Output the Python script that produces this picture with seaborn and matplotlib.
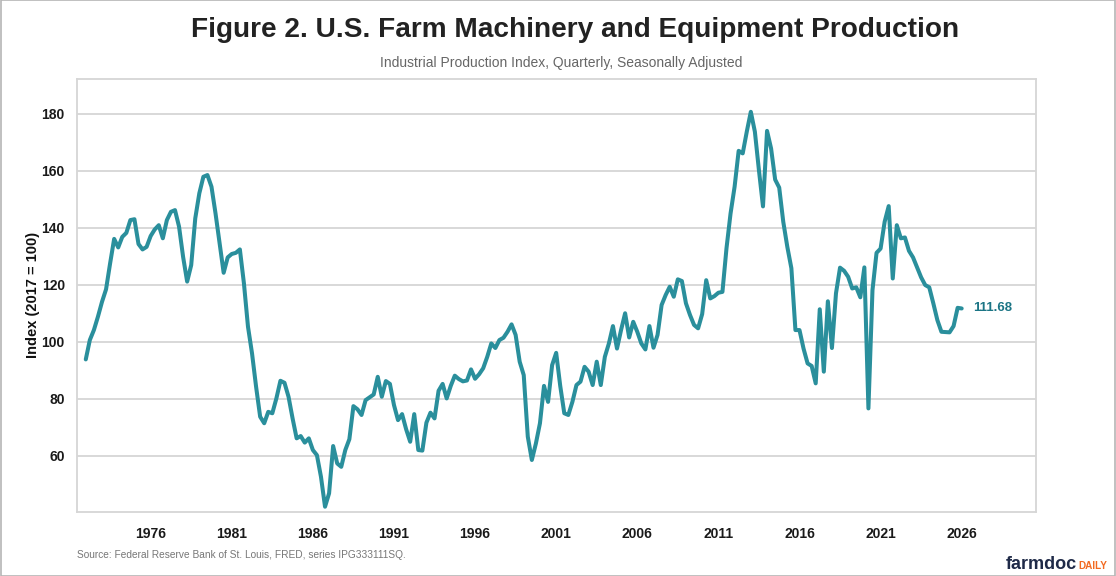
import numpy as np
import pandas as pd
import seaborn as sns
import matplotlib.pyplot as plt
from matplotlib.patches import Rectangle

# =========================
# Data (quarterly index, 2017 = 100), 1972Q1 .. 2026Q1
# =========================
start_quarter = "1972Q1"
index_values = [
    93.8, 100.6, 104.1, 108.8,      # 1972
    114.0, 118.4, 127.5, 136.1,     # 1973
    133.1, 136.8, 138.2, 142.7,     # 1974
    143.0, 134.3, 132.4, 133.3,     # 1975
    137.1, 139.4, 140.9, 136.3,     # 1976
    142.7, 145.6, 146.2, 140.4,     # 1977
    129.8, 121.1, 126.9, 143.3,     # 1978
    152.1, 157.9, 158.5, 154.4,     # 1979
    145.0, 134.5, 124.2, 129.6,     # 1980
    130.8, 131.2, 132.4, 120.5,     # 1981
    105.3, 95.9, 84.2, 73.7,        # 1982
    71.4, 75.4, 74.9, 80.1,         # 1983
    86.3, 85.6, 80.7, 73.1,         # 1984
    66.1, 66.9, 64.6, 66.1,         # 1985
    62.0, 60.2, 52.6, 42.1,         # 1986
    46.8, 63.4, 57.3, 56.1,         # 1987
    62.0, 65.8, 77.4, 76.3,         # 1988
    74.3, 79.5, 80.5, 81.5,         # 1989
    87.7, 80.7, 86.2, 85.2,         # 1990
    77.8, 72.5, 74.6, 69.3,         # 1991
    64.9, 74.6, 62.0, 61.8,         # 1992
    71.6, 75.1, 73.1, 82.8,         # 1993
    85.2, 80.1, 84.5, 88.1,         # 1994
    86.9, 86.1, 86.4, 90.3,         # 1995
    87.0, 88.6, 90.7, 94.7,         # 1996
    99.4, 97.8, 100.6, 101.4,       # 1997
    103.5, 106.1, 102.4, 93.0,      # 1998
    88.3, 66.7, 58.5, 64.3,         # 1999
    71.4, 84.5, 78.9, 91.8,         # 2000
    96.1, 84.5, 74.9, 74.3,         # 2001
    78.9, 84.8, 86.0, 91.2,         # 2002
    89.5, 84.8, 93.0, 84.8,         # 2003
    94.7, 99.4, 105.5, 97.6,        # 2004
    104.1, 110.0, 101.5, 107.0,     # 2005
    103.5, 99.4, 97.3, 105.5,       # 2006
    97.9, 102.4, 112.9, 116.4,      # 2007
    119.3, 115.8, 121.9, 121.3,     # 2008
    113.5, 109.4, 105.9, 104.7,     # 2009
    109.7, 121.6, 115.2, 116.0,     # 2010
    117.2, 117.5, 132.8, 145.0,     # 2011
    154.4, 167.0, 166.1, 173.7,     # 2012
    180.7, 173.7, 160.2, 147.5,     # 2013
    174.0, 167.8, 156.9, 154.1,     # 2014
    142.1, 133.3, 125.8, 104.1,     # 2015
    104.1, 97.6, 92.4, 91.5,        # 2016
    85.4, 111.4, 89.5, 114.2,       # 2017
    97.8, 117.0, 126.0, 124.9,      # 2018
    122.8, 118.7, 119.1, 115.6,     # 2019
    126.1, 76.6, 118.1, 131.2,      # 2020
    132.7, 142.1, 147.6, 122.2,     # 2021
    140.9, 136.3, 136.6, 131.9,     # 2022
    129.6, 126.1, 122.6, 119.9,     # 2023
    119.1, 113.5, 107.6, 103.5,     # 2024
    103.4, 103.3, 105.5, 111.9,     # 2025
    111.68,                         # 2026
]
tick_years = [1976, 1981, 1986, 1991, 1996, 2001, 2006, 2011, 2016, 2021, 2026]
y_ticks = [60, 80, 100, 120, 140, 160, 180]

periods = pd.period_range(start_quarter, periods=len(index_values), freq="Q")
df = pd.DataFrame({
    "year": periods.year + (periods.quarter - 1) / 4.0,
    "index": index_values,
})

# =========================
# Style
# =========================
sns.set_theme(style="white")
plt.rcParams["font.family"] = ["Liberation Sans", "DejaVu Sans"]

line_color = "#2a8f9c"
grid_color = "#d6d6d6"

fig = plt.figure(figsize=(11.16, 5.76), dpi=100)
ax = fig.add_axes([0.0693, 0.1116, 0.8590, 0.7512])

sns.lineplot(data=df, x="year", y="index", ax=ax, color=line_color,
             linewidth=2.9, solid_joinstyle="round", solid_capstyle="round")

ax.set_xlim(1971.48, 2030.58)
ax.set_ylim(40.35, 192.2)
ax.set_xticks(tick_years)
ax.set_xticklabels([str(y) for y in tick_years])
ax.set_yticks(y_ticks)

ax.yaxis.grid(True, color=grid_color, linewidth=1.3)
ax.xaxis.grid(False)
ax.set_axisbelow(True)
for side in ["left", "right", "top", "bottom"]:
    ax.spines[side].set_color(grid_color)
    ax.spines[side].set_linewidth(1.3)

ax.tick_params(axis="both", which="both", length=5, width=1.0, color=grid_color,
               labelsize=10, labelcolor="#1a1a1a", pad=6)
ax.tick_params(axis="y", length=5, pad=4)
for lbl in ax.get_xticklabels() + ax.get_yticklabels():
    lbl.set_fontweight("bold")

ax.set_xlabel("")
ax.set_ylabel("Index (2017 = 100)", fontsize=10.5, fontweight="bold", color="#111111",
              labelpad=1)

# end label
last = df.iloc[-1]
ax.annotate(f"{last['index']:.2f}", xy=(last["year"], last["index"]),
            xytext=(8, 0), textcoords="offset points", va="center", ha="left",
            fontsize=9.5, fontweight="bold", color="#1c7585")

# =========================
# Titles, source, logo
# =========================
fig.text(0.5155, 0.948, "Figure 2. U.S. Farm Machinery and Equipment Production",
         ha="center", va="center", fontsize=20.2, fontweight="bold", color="#222222")
fig.text(0.503, 0.891, "Industrial Production Index, Quarterly, Seasonally Adjusted",
         ha="center", va="center", fontsize=10, color="#666666")
fig.text(0.069, 0.036, "Source: Federal Reserve Bank of St. Louis, FRED, series IPG333111SQ.",
         ha="left", va="center", fontsize=7.3, color="#777777")

t1 = fig.text(0.9015, 0.013, "farmdoc", ha="left", va="baseline",
              fontsize=13, fontweight="bold", color="#1f2a48")
fig.canvas.draw()
bb = t1.get_window_extent()
fig.text(bb.x1 / fig.bbox.width + 0.001, 0.013, "DAILY", ha="left", va="baseline",
         fontsize=7.2, fontweight="bold", color="#f26a21")

# figure border
fig.patches.append(Rectangle((0.0005, 0.0008), 0.999, 0.9985, transform=fig.transFigure,
                             fill=False, edgecolor="#b5b5b5", linewidth=1.2))

fig.savefig("out.png", dpi=100)
